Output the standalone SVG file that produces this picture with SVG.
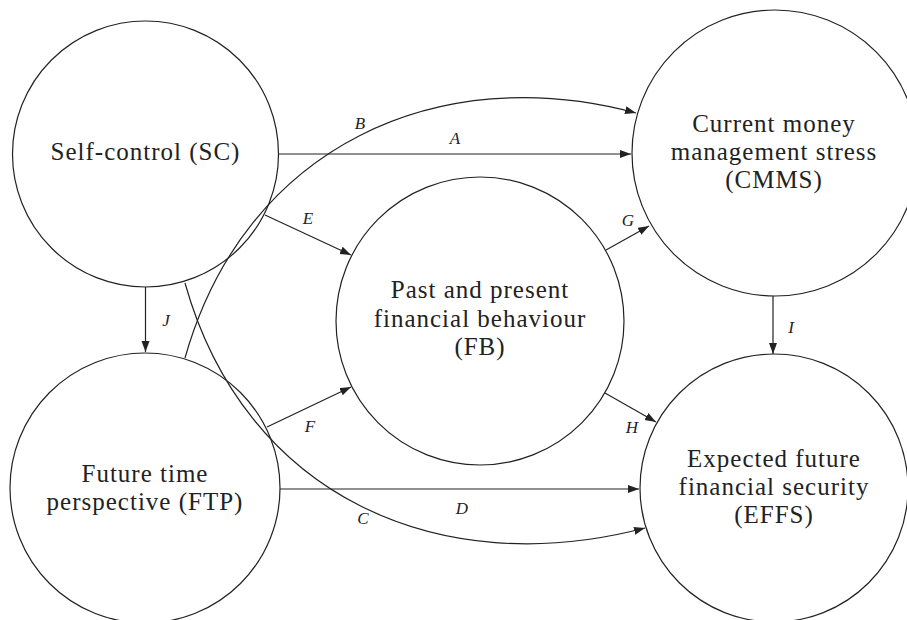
<svg xmlns="http://www.w3.org/2000/svg" width="907" height="620" viewBox="0 0 907 620">
<style>
.node{fill:#fff;stroke:#222;stroke-width:1.2}
.nt{font-family:"Liberation Serif","DejaVu Serif",serif;font-size:25px;letter-spacing:1px;fill:#222;text-anchor:middle}
.lb{font-family:"Liberation Serif","DejaVu Serif",serif;font-size:17px;font-style:italic;fill:#222;text-anchor:middle}
.e{fill:none;stroke:#222;stroke-width:1.2;marker-end:url(#ah)}
</style>
<defs>
<marker id="ah" markerUnits="userSpaceOnUse" markerWidth="12" markerHeight="9" refX="11" refY="4" orient="auto">
<path d="M0,0 L11,4 L0,8 z" fill="#222"/>
</marker>
</defs>
<rect width="907" height="620" fill="#fff"/>
<g id="SC"><circle class="node" cx="145.5" cy="154" r="133"/><text class="nt" x="145.5" y="160">Self-control (SC)</text></g>
<g id="FTP"><circle class="node" cx="145" cy="488" r="135"/><text class="nt" x="145" y="482">Future time</text><text class="nt" x="145" y="510">perspective (FTP)</text></g>
<g id="FB"><circle class="node" cx="480" cy="321" r="144"/><text class="nt" x="480" y="298">Past and present</text><text class="nt" x="480" y="326.5">financial behaviour</text><text class="nt" x="480" y="355">(FB)</text></g>
<g id="CMMS"><circle class="node" cx="775" cy="153" r="143"/><text class="nt" x="774" y="132">Current money</text><text class="nt" x="774" y="160">management stress</text><text class="nt" x="774" y="188">(CMMS)</text></g>
<g id="EFFS"><circle class="node" cx="774" cy="488" r="134"/><text class="nt" x="774" y="467">Expected future</text><text class="nt" x="774" y="495">financial security</text><text class="nt" x="774" y="523">(EFFS)</text></g>
<g id="connectors">
<path class="e" d="M278.5,154 L631,154"/>
<path class="e" d="M185,358 C245,145 440,60 636,113"/>
<path class="e" d="M185,283 C245,497 440,582 645,528"/>
<path class="e" d="M280,489 L639,489"/>
<path class="e" d="M265,215 L351,255"/>
<path class="e" d="M267,427 L351,387"/>
<path class="e" d="M606,250 L649,226"/>
<path class="e" d="M605,393 L656,422"/>
<path class="e" d="M773,296 L773,354"/>
<path class="e" d="M145.5,287 L145.5,352"/>
<text class="lb" x="455" y="144">A</text>
<text class="lb" x="360" y="129">B</text>
<text class="lb" x="363" y="524">C</text>
<text class="lb" x="462" y="514">D</text>
<text class="lb" x="308" y="224">E</text>
<text class="lb" x="310" y="432">F</text>
<text class="lb" x="628" y="226">G</text>
<text class="lb" x="632" y="433">H</text>
<text class="lb" x="791" y="333">I</text>
<text class="lb" x="166" y="326">J</text>
</g>
</svg>
